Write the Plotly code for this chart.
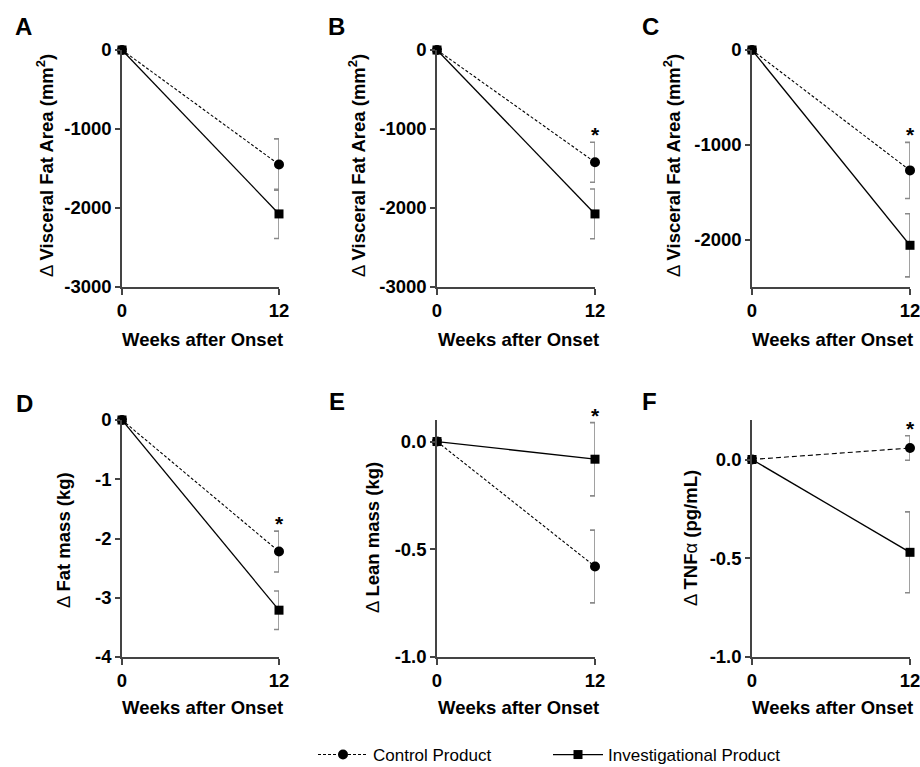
import plotly.graph_objects as go

# ---------------- data ----------------
weeks = [0, 12]

ctrl_A = [0, -1450]; ctrl_A_err = [0, 325]
inv_A = [0, -2075]; inv_A_err = [0, 312]

ctrl_B = [0, -1421]; ctrl_B_err = [0, 253]
inv_B = [0, -2075]; inv_B_err = [0, 315]

ctrl_C = [0, -1270]; ctrl_C_err = [0, 296]
inv_C = [0, -2060]; inv_C_err = [0, 333]

ctrl_D = [0, -2.22]; ctrl_D_err = [0, 0.345]
inv_D = [0, -3.21]; inv_D_err = [0, 0.325]

ctrl_E = [0, -0.58]; ctrl_E_err = [0, 0.169]
inv_E = [0, -0.082]; inv_E_err = [0, 0.17]

ctrl_F = [0, 0.058]; ctrl_F_err = [0, 0.062]
inv_F = [0, -0.47]; inv_F_err = [0, 0.205]

panel_letters = ["A", "B", "C", "D", "E", "F"]
y_titles = [
    "Δ <b>Visceral Fat Area (mm<sup>2</sup>)</b>",
    "Δ <b>Visceral Fat Area (mm<sup>2</sup>)</b>",
    "Δ <b>Visceral Fat Area (mm<sup>2</sup>)</b>",
    "Δ <b>Fat mass (kg)</b>",
    "Δ <b>Lean mass (kg)</b>",
    "Δ <b>TNF</b>α<b> (pg/mL)</b>",
]
x_title = "Weeks after Onset"
x_ticks = [0, 12]
x_ticktext = ["0", "12"]

y_ranges = [[-3000, 0], [-3000, 0], [-2500, 0], [-4, 0], [-1.0, 0.1], [-1.0, 0.2]]
y_tickvals = [[0, -1000, -2000, -3000], [0, -1000, -2000, -3000], [0, -1000, -2000],
              [0, -1, -2, -3, -4], [0.0, -0.5, -1.0], [0.0, -0.5, -1.0]]
y_ticktext = [["0", "-1000", "-2000", "-3000"], ["0", "-1000", "-2000", "-3000"],
              ["0", "-1000", "-2000"], ["0", "-1", "-2", "-3", "-4"],
              ["0.0", "-0.5", "-1.0"], ["0.0", "-0.5", "-1.0"]]
significant = [False, True, True, True, True, True]

ctrl_series = [(ctrl_A, ctrl_A_err), (ctrl_B, ctrl_B_err), (ctrl_C, ctrl_C_err),
               (ctrl_D, ctrl_D_err), (ctrl_E, ctrl_E_err), (ctrl_F, ctrl_F_err)]
inv_series = [(inv_A, inv_A_err), (inv_B, inv_B_err), (inv_C, inv_C_err),
              (inv_D, inv_D_err), (inv_E, inv_E_err), (inv_F, inv_F_err)]

# ---------------- layout geometry ----------------
W, H = 920, 767
FONT = "Arial, Liberation Sans, Helvetica, sans-serif"
FS = 18.5
col_px = [(122, 279), (437, 595), (752, 910)]
row_px = [(50, 287), (420, 657)]
letter_pos = [(23, 27), (336, 27), (650, 27), (24, 403), (337, 402), (649, 402)]
ytitle_pos = [(45, 166), (357, 166), (672, 166), (63, 540), (372, 538), (690, 538)]
xtitle_y = [339, 707]

fig = go.Figure()
layout = dict(
    width=W, height=H, autosize=False,
    margin=dict(l=0, r=0, t=0, b=0, pad=0, autoexpand=False),
    paper_bgcolor="white", plot_bgcolor="white",
    font=dict(family=FONT, size=FS, color="black"),
    showlegend=True,
    legend=dict(orientation="h", x=313 / W, xanchor="left", y=1 - 755 / H, yanchor="middle",
                font=dict(family=FONT, size=17, color="black"), entrywidth=170,
                bgcolor="rgba(0,0,0,0)", itemwidth=50),
)
annotations = []
AX = "#444444"
ERR = "#8a8a8a"

for i in range(6):
    r, c = divmod(i, 3)
    xa = "xaxis" if i == 0 else f"xaxis{i+1}"
    ya = "yaxis" if i == 0 else f"yaxis{i+1}"
    xr = "x" if i == 0 else f"x{i+1}"
    yr = "y" if i == 0 else f"y{i+1}"
    x0, x1 = col_px[c]
    ytop, ybot = row_px[r]
    layout[xa] = dict(domain=[x0 / W, x1 / W], anchor=yr, range=[0, 12], automargin=False,
                      ticklabeloverflow="allow",
                      tickvals=x_ticks, ticktext=x_ticktext, showgrid=False, zeroline=False,
                      showline=True, linecolor=AX, linewidth=1.5, ticks="outside", ticklen=6,
                      tickwidth=1.5, tickcolor=AX,
                      tickfont=dict(family=FONT, size=FS, weight="bold", color="black"))
    layout[ya] = dict(domain=[1 - ybot / H, 1 - ytop / H], anchor=xr, range=y_ranges[i],
                      automargin=False, ticklabeloverflow="allow",
                      tickvals=y_tickvals[i], ticktext=y_ticktext[i], showgrid=False, zeroline=False,
                      showline=True, linecolor=AX, linewidth=1.5, ticks="outside", ticklen=5,
                      tickwidth=1.5, tickcolor=AX,
                      tickfont=dict(family=FONT, size=FS, weight="bold", color="black"))

    cy, ce = ctrl_series[i]
    iy, ie = inv_series[i]
    dash = "5px,3px" if i == 5 else "3px,2px"
    fig.add_trace(go.Scatter(
        x=weeks, y=cy, xaxis=xr, yaxis=yr, mode="lines+markers", name="Control Product",
        legendgroup="ctrl", showlegend=(i == 0), cliponaxis=False,
        line=dict(color="black", width=1.1, dash=dash),
        marker=dict(symbol="circle", size=10, color="black"),
        error_y=dict(type="data", array=ce, visible=True, color=ERR, thickness=1.6, width=5)))
    fig.add_trace(go.Scatter(
        x=weeks, y=iy, xaxis=xr, yaxis=yr, mode="lines+markers", name="Investigational Product",
        legendgroup="inv", showlegend=(i == 0), cliponaxis=False,
        line=dict(color="black", width=1.3),
        marker=dict(symbol="square", size=9, color="black"),
        error_y=dict(type="data", array=ie, visible=True, color=ERR, thickness=1.6, width=5)))

    if significant[i]:
        top = max(cy[1] + ce[1], iy[1] + ie[1])
        annotations.append(dict(x=12, y=top, xref=xr, yref=yr, text="<b>*</b>", showarrow=False,
                                yanchor="bottom", xanchor="center", yshift=-6,
                                font=dict(family=FONT, size=21, color="black")))

    lx, ly = letter_pos[i]
    annotations.append(dict(x=lx / W, y=1 - ly / H, xref="paper", yref="paper",
                            text=f"<b>{panel_letters[i]}</b>", showarrow=False,
                            xanchor="center", yanchor="middle",
                            font=dict(family=FONT, size=24, color="black")))
    tx, ty = ytitle_pos[i]
    annotations.append(dict(x=tx / W, y=1 - ty / H, xref="paper", yref="paper",
                            text=y_titles[i], showarrow=False, textangle=-90,
                            xanchor="center", yanchor="middle",
                            font=dict(family=FONT, size=FS, color="black")))
    annotations.append(dict(x=(x0 + x1) / 2 / W + 2 / W, y=1 - xtitle_y[r] / H, xref="paper", yref="paper",
                            text=f"<b>{x_title}</b>", showarrow=False,
                            xanchor="center", yanchor="middle",
                            font=dict(family=FONT, size=FS, color="black")))

layout["annotations"] = annotations
fig.update_layout(**layout)
fig.write_html("out.html", config={"displayModeBar": False},
               post_script="document.body.style.margin='0';document.body.style.padding='0';")
